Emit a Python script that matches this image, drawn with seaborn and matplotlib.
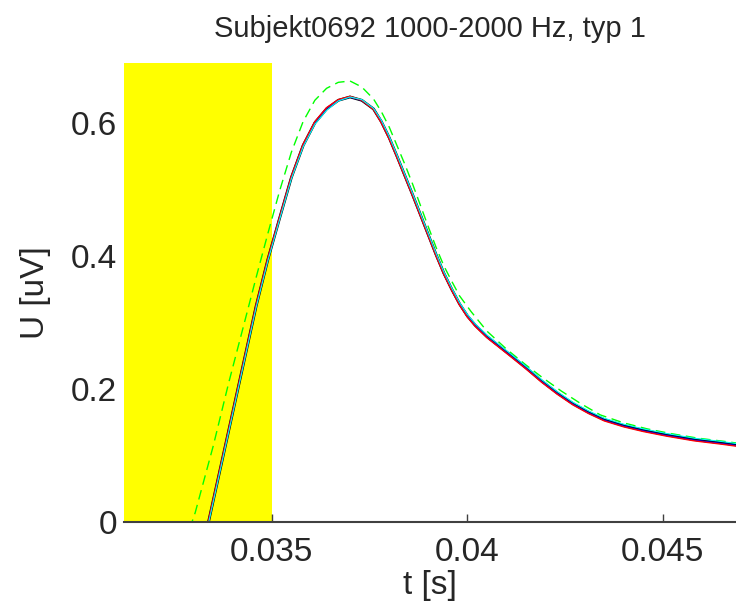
import numpy as np
import pandas as pd
import matplotlib
matplotlib.use("Agg")
import matplotlib.pyplot as plt
import seaborn as sns

# time axis [s] and averaged responses [uV]
t_main = [0.03338, 0.0337, 0.0340, 0.0343, 0.0346, 0.0349, 0.0352, 0.0355, 0.0358, 0.0361,
          0.0364, 0.0367, 0.0370, 0.0373, 0.0376, 0.0378, 0.0380, 0.0382, 0.0384, 0.0386,
          0.0388, 0.0390, 0.0392, 0.0394, 0.0396, 0.0398, 0.0400, 0.0402, 0.0405, 0.0408,
          0.0411, 0.0415, 0.0419, 0.0423, 0.0427, 0.0431, 0.0435, 0.0440, 0.0445, 0.0451,
          0.0458, 0.0465, 0.0470]
u_black = [0.000, 0.085, 0.165, 0.245, 0.325, 0.395, 0.457, 0.518, 0.566, 0.600,
           0.621, 0.634, 0.639, 0.634, 0.621, 0.602, 0.578, 0.550, 0.521, 0.492,
           0.462, 0.432, 0.402, 0.374, 0.350, 0.328, 0.310, 0.296, 0.279, 0.265,
           0.251, 0.232, 0.212, 0.194, 0.178, 0.165, 0.154, 0.145, 0.138, 0.131,
           0.124, 0.119, 0.115]
u_blue = [0.001, 0.086, 0.166, 0.246, 0.326, 0.396, 0.458, 0.519, 0.567, 0.601,
          0.622, 0.634, 0.639, 0.634, 0.621, 0.601, 0.577, 0.549, 0.520, 0.491,
          0.461, 0.431, 0.401, 0.373, 0.349, 0.327, 0.309, 0.295, 0.278, 0.264,
          0.250, 0.231, 0.211, 0.193, 0.177, 0.164, 0.153, 0.144, 0.137, 0.130,
          0.123, 0.118, 0.114]
u_red = [0.002, 0.087, 0.167, 0.247, 0.327, 0.397, 0.459, 0.520, 0.568, 0.602,
         0.623, 0.635, 0.640, 0.634, 0.620, 0.600, 0.576, 0.548, 0.519, 0.490,
         0.460, 0.430, 0.400, 0.372, 0.348, 0.326, 0.308, 0.294, 0.277, 0.263,
         0.249, 0.230, 0.210, 0.192, 0.176, 0.163, 0.152, 0.143, 0.136, 0.129,
         0.122, 0.117, 0.113]
u_cyan = [-0.002, 0.083, 0.163, 0.243, 0.323, 0.393, 0.455, 0.516, 0.564, 0.598,
          0.619, 0.633, 0.639, 0.635, 0.622, 0.604, 0.580, 0.552, 0.523, 0.494,
          0.464, 0.434, 0.404, 0.376, 0.352, 0.330, 0.312, 0.298, 0.281, 0.267,
          0.253, 0.234, 0.214, 0.196, 0.180, 0.167, 0.156, 0.147, 0.140, 0.133,
          0.126, 0.121, 0.117]

# upper bound (green dashed)
t_upper = [0.0329, 0.03304, 0.0335, 0.0339, 0.0343, 0.0346, 0.0349, 0.0352, 0.0355, 0.0358,
           0.0361, 0.0364, 0.0367, 0.0370, 0.0373, 0.0376, 0.0378, 0.0380, 0.0382, 0.0384,
           0.0386, 0.0388, 0.0390, 0.0392, 0.0394, 0.0396, 0.0398, 0.0401, 0.0405, 0.0410,
           0.0415, 0.0419, 0.0424, 0.0429, 0.0434, 0.0440, 0.0446, 0.0452, 0.0459, 0.0466,
           0.0471]
u_upper = [-0.010, 0.014, 0.114, 0.210, 0.300, 0.368, 0.434, 0.498, 0.556, 0.602,
           0.634, 0.652, 0.661, 0.663, 0.654, 0.636, 0.617, 0.594, 0.566, 0.538,
           0.508, 0.476, 0.444, 0.413, 0.385, 0.362, 0.340, 0.316, 0.287, 0.260,
           0.236, 0.218, 0.197, 0.178, 0.161, 0.149, 0.140, 0.133, 0.126, 0.121,
           0.117]

window_end = 0.035
x_lim = (0.03122, 0.04687)
y_lim = (0, 0.69)

sns.set_style("white")
plt.rcParams["font.family"] = ["Liberation Sans", "DejaVu Sans"]

fig = plt.figure(figsize=(7.36, 6.15), dpi=100)
ax = fig.add_axes([0.1685, 0.1512, 0.8315, 0.7463])

ax.axvspan(x_lim[0], window_end, color="#ffff00", zorder=0, lw=0)

sns.lineplot(x=t_upper, y=u_upper, color="#00ff00", lw=1.0, ls=(0, (7, 4)), ax=ax)
sns.lineplot(x=t_main, y=u_black, color="black", lw=2.0, ax=ax)
sns.lineplot(x=t_main, y=u_blue, color="#0000ff", lw=1.0, ax=ax)
sns.lineplot(x=t_main, y=u_red, color="#ff0000", lw=1.0, ax=ax)
sns.lineplot(x=t_main, y=u_cyan, color="#00ffff", lw=0.8, ax=ax)

ax.set_xlim(*x_lim)
ax.set_ylim(*y_lim)
ax.set_xticks([0.035, 0.04, 0.045])
ax.set_xticklabels(["0.035", "0.04", "0.045"])
ax.set_yticks([0, 0.2, 0.4, 0.6])
ax.set_yticklabels(["0", "0.2", "0.4", "0.6"])

for s in ["top", "right", "left"]:
    ax.spines[s].set_visible(False)
ax.spines["bottom"].set_color("#404040")
ax.spines["bottom"].set_linewidth(1.5)

ax.tick_params(axis="x", direction="in", length=6, width=1, color="#404040",
               labelsize=24, pad=11, bottom=True)
ax.tick_params(axis="y", length=0, labelsize=24, pad=5)

ax.set_xlabel("t [s]", fontsize=24, labelpad=1)
ax.set_ylabel("U [uV]", fontsize=24, labelpad=14)
ax.set_title("Subjekt0692 1000-2000 Hz, typ 1", fontsize=21, pad=19)

fig.savefig("out.png", dpi=100)
